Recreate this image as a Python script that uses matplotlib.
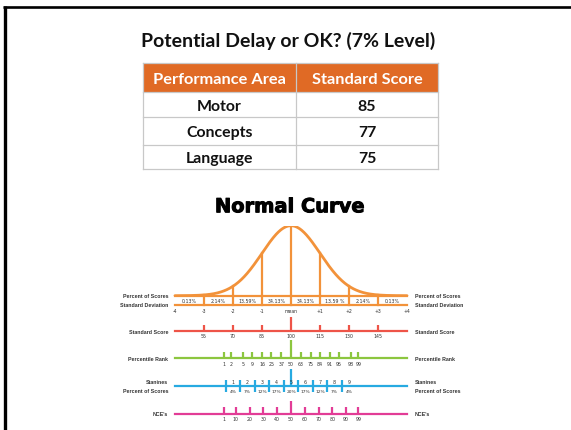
import matplotlib
matplotlib.use("Agg")
import matplotlib.pyplot as plt
import matplotlib.patheffects as pe
import numpy as np
from statistics import NormalDist
from matplotlib.patches import Rectangle

# ---------------- data ----------------
title = "Potential Delay or OK? (7% Level)"
table_header = ["Performance Area", "Standard Score"]
areas = ["Motor", "Concepts", "Language"]
scores = [85, 77, 75]

curve_title = "Normal Curve"
sd_ticks = [-4, -3, -2, -1, 0, 1, 2, 3, 4]
sd_labels = ["-4", "-3", "-2", "-1", "mean", "+1", "+2", "+3", "+4"]
band_pcts = ["0.13%", "2.14%", "13.59%", "34.13%", "34.13%", "13.59 %", "2.14%", "0.13%"]
std_scores = [55, 70, 85, 100, 115, 130, 145]
pct_ranks = [1, 2, 5, 9, 16, 25, 37, 50, 63, 75, 84, 91, 95, 98, 99]
stanines = [1, 2, 3, 4, 5, 6, 7, 8, 9]
stanine_pcts = ["4%", "7%", "12%", "17%", "20%", "17%", "12%", "7%", "4%"]
nces = [1, 10, 20, 30, 40, 50, 60, 70, 80, 90, 99]
row_labels = ["Percent of Scores", "Standard Deviation", "Standard Score",
              "Percentile Rank", "Stanines", "Percent of Scores", "NCE's"]

# ---------------- styles ----------------
W, H = 571, 431
ORANGE = "#F2923A"
RED = "#EE5448"
GREEN = "#8CC63F"
BLUE = "#27AAE1"
MAGENTA = "#E23C96"
HEAD = "#E06A25"
GRID = "#C8C8C8"
TXT = "#333333"

fig = plt.figure(figsize=(W / 100, H / 100), dpi=100)
fig.patch.set_facecolor("white")

# pixel overlay axes
axp = fig.add_axes([0, 0, 1, 1])
axp.set_xlim(0, W)
axp.set_ylim(H, 0)
axp.axis("off")

# chart axes: x in SD units, y in pixel rows
X0, UNIT = 291.0, 29.0
ax = fig.add_axes([0, 0, 1, 1])
ax.set_xlim(-X0 / UNIT, (W - X0) / UNIT)
ax.set_ylim(H, 0)
ax.axis("off")
ax.patch.set_alpha(0)

# curve axes (same x mapping)
BASE, PEAK = 296.7, 226.7
nd = NormalDist()
pdf0 = nd.pdf(0)
axc = fig.add_axes([0, (H - BASE) / H, 1, (BASE - PEAK) / H])
axc.set_xlim(-X0 / UNIT, (W - X0) / UNIT)
axc.set_ylim(0, pdf0)
axc.axis("off")
axc.patch.set_alpha(0)

# border
axp.plot([3.3, W], [8.0, 8.0], color="black", lw=1.9, solid_capstyle="butt")
axp.plot([5.0, 5.0], [6.7, H], color="black", lw=2.4, solid_capstyle="butt")

FONT = ["Lato", "DejaVu Sans"]

# title
axp.text(287.7, 46.7, title, ha="center", va="baseline", fontsize=14,
         fontweight="bold", family=FONT, color="#111111")

# table
tx0, tx1, txm = 142.7, 438.3, 295.7
rows_y = [64.3, 92.7, 117.7, 145.7, 170.0]
axp.add_patch(Rectangle((tx0, rows_y[0]), tx1 - tx0, rows_y[1] - rows_y[0],
                        facecolor=HEAD, edgecolor="none", zorder=1))
for yy in rows_y:
    axp.plot([tx0, tx1], [yy, yy], color=GRID, lw=0.9, zorder=2)
for xx in (tx0, txm, tx1):
    axp.plot([xx, xx], [rows_y[0], rows_y[-1]], color=GRID, lw=0.9, zorder=2)
c1, c2 = (tx0 + txm) / 2, (txm + tx1) / 2
hy = (rows_y[0] + rows_y[1]) / 2 + 5.6
axp.text(c1, hy, table_header[0], ha="center", va="baseline", fontsize=11.8,
         fontweight="bold", family=FONT, color="white", zorder=3)
axp.text(c2, hy, table_header[1], ha="center", va="baseline", fontsize=11.8,
         fontweight="bold", family=FONT, color="white", zorder=3)
for i, (a, s) in enumerate(zip(areas, scores)):
    yb = (rows_y[i + 1] + rows_y[i + 2]) / 2 + 5.6
    axp.text(c1, yb, a, ha="center", va="baseline", fontsize=11.4,
             fontweight="bold", family=FONT, color="#111111", zorder=3)
    axp.text(c2, yb, str(s), ha="center", va="baseline", fontsize=11.4,
             fontweight="bold", family=FONT, color="#111111", zorder=3)

# Normal Curve heading
axp.text(290.0, 213.3, curve_title, ha="center", va="baseline", fontsize=14.0,
         fontweight="bold", family="DejaVu Sans", color="black",
         path_effects=[pe.withStroke(linewidth=0.7, foreground="black")])

# ---------------- normal curve ----------------
zs = np.linspace(sd_ticks[0], sd_ticks[-1], 400)
axc.plot(zs, [nd.pdf(z) for z in zs], color=ORANGE, lw=2.0, solid_capstyle="round")
for z in sd_ticks[1:-1]:
    axc.plot([z, z], [0, nd.pdf(z)], color=ORANGE, lw=1.6)

LW = 1.6
SD_LINE = 305.7
ax.plot([sd_ticks[0], sd_ticks[-1]], [BASE, BASE], color=ORANGE, lw=LW)
ax.plot([sd_ticks[0], sd_ticks[-1]], [SD_LINE, SD_LINE], color=ORANGE, lw=LW)
for z in sd_ticks[1:-1]:
    ax.plot([z, z], [BASE, SD_LINE], color=ORANGE, lw=LW)
for i, p in enumerate(band_pcts):
    zc = (sd_ticks[i] + sd_ticks[i + 1]) / 2
    ax.text(zc, (BASE + SD_LINE) / 2 + 0.3, p, ha="center", va="center",
            fontsize=3.4, color=TXT)
for z, lab in zip(sd_ticks, sd_labels):
    ax.text(z, 311.3, lab, ha="center", va="center", fontsize=3.3, color=TXT)

# generic scale row
def scale_row(zvals, labels, line_y, tall_top, short_top, lab_y, color, center_val):
    ax.plot([sd_ticks[0], sd_ticks[-1]], [line_y, line_y], color=color, lw=LW)
    for z, lab in zip(zvals, labels):
        top = tall_top if lab == center_val else short_top
        ax.plot([z, z], [top, line_y], color=color, lw=LW, solid_capstyle="butt")
        ax.text(z, lab_y, str(lab), ha="center", va="center", fontsize=3.4, color=TXT)

scale_row([(s - 100) / 15 for s in std_scores], std_scores,
          332.3, 318.3, 326.0, 336.9, RED, 100)
scale_row([nd.inv_cdf(p / 100) for p in pct_ranks], pct_ranks,
          359.3, 341.0, 353.3, 364.3, GREEN, 50)
scale_row([(n - 50) / 21.06 for n in nces], nces,
          415.0, 401.7, 408.3, 420.0, MAGENTA, 50)

# stanines
ST_LINE = 387.3
ax.plot([sd_ticks[0], sd_ticks[-1]], [ST_LINE, ST_LINE], color=BLUE, lw=LW)
for k, pct in zip(stanines, stanine_pcts):
    zc = (k - 5) / 2
    ax.plot([zc - 0.25, zc - 0.25], [381.0, 393.3], color=BLUE, lw=LW,
            solid_capstyle="butt")
    if k == 5:
        ax.plot([zc, zc], [370.0, ST_LINE], color=BLUE, lw=LW, solid_capstyle="butt")
    ax.text(zc, 383.0, str(k), ha="center", va="center", fontsize=3.4, color=TXT)
    ax.text(zc, 392.2, pct, ha="center", va="center", fontsize=3.2, color=TXT)

# row labels
row_y = [296.7, 306.0, 332.3, 359.3, 383.0, 392.0, 415.0]
for lab, yy in zip(row_labels, row_y):
    axp.text(168.3, yy, lab, ha="right", va="center", fontsize=3.8,
             fontweight="bold", family="Liberation Sans", color=TXT)
    axp.text(415.0, yy, lab, ha="left", va="center", fontsize=3.8,
             fontweight="bold", family="Liberation Sans", color=TXT)

fig.savefig("out.png", dpi=100, facecolor="white")
